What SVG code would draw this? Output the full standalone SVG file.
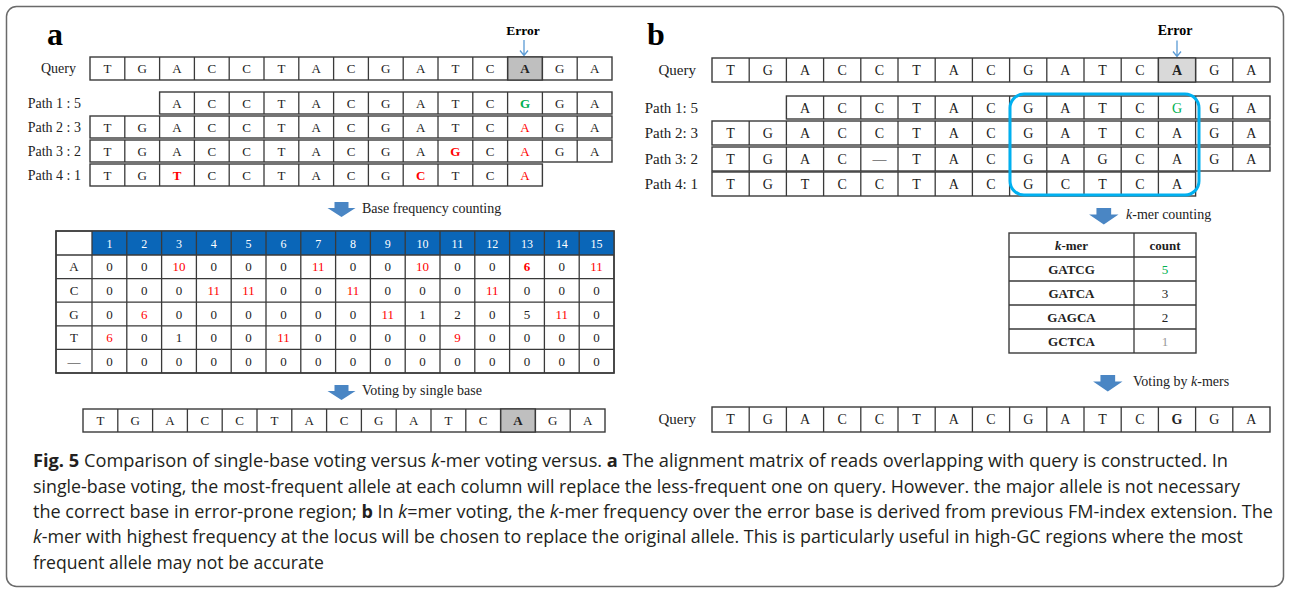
<svg xmlns="http://www.w3.org/2000/svg" width="1289" height="591" viewBox="0 0 1289 591">
<style>
.frame{fill:none;stroke:#6a6a6a;stroke-width:1.5}
.row{fill:#fff;stroke:#3a3a3a;stroke-width:1.4}
.grid{fill:none;stroke:#3a3a3a;stroke-width:1.3}
.ser{font-family:"Liberation Serif","Times New Roman",serif;fill:#222}
.cl{font-size:13px;text-anchor:middle}
.clb{font-size:14px;text-anchor:middle}
.lab{font-size:14px;text-anchor:end}
.labb{font-size:15px;text-anchor:end}
.panel{font-size:32px;font-weight:bold;fill:#000}
.err{font-weight:bold;text-anchor:middle;fill:#000}
.step{font-size:14px}
.num{font-size:13px;text-anchor:middle}
.hd{font-size:12px;text-anchor:middle;fill:#fff}
.red{fill:#f00}
.grn{fill:#00b050}
.gry{fill:#999}
.b{font-weight:bold}
.i{font-style:italic}
.arr{fill:#4a86c4}
.earr{fill:none;stroke:#5b9bd5;stroke-width:1.3}
.cap{font-family:"Open Sans","Noto Sans","Liberation Sans",sans-serif;font-size:18px;fill:#231f20}
.kbox{fill:none;stroke:#00b0f0;stroke-width:3}
</style>
<defs>
<path id="bigarrow" d="M-7 0H7V6H14L0 15L-14 6H-7Z"/>
</defs>
<rect class="frame" x="6.5" y="6.5" width="1277" height="580" rx="10"/>

<!-- Panel a -->
<g id="panel-a">
<text class="ser panel" x="47" y="45">a</text>
<g id="a-error">
<text class="ser err" x="523" y="35" font-size="13.5">Error</text>
<path class="earr" d="M524 40V55.5M520 50.5L524 55.5L528 50.5"/>
</g>
<g id="a-query">
<text class="ser lab" x="76" y="73">Query</text>
<rect class="row" x="90" y="57" width="522" height="23"/>
<rect x="507.6" y="57" width="34.8" height="23" fill="#bfbfbf" stroke="#3a3a3a" stroke-width="1.3"/>
<path class="grid" d="M124.8 57V80M159.6 57V80M194.4 57V80M229.2 57V80M264 57V80M298.8 57V80M333.6 57V80M368.4 57V80M403.2 57V80M438 57V80M472.8 57V80M507.6 57V80M542.4 57V80M577.2 57V80"/>
<text class="ser cl" y="73"><tspan x="107.4">T</tspan><tspan x="142.2">G</tspan><tspan x="177">A</tspan><tspan x="211.8">C</tspan><tspan x="246.6">C</tspan><tspan x="281.4">T</tspan><tspan x="316.2">A</tspan><tspan x="351">C</tspan><tspan x="385.8">G</tspan><tspan x="420.6">A</tspan><tspan x="455.4">T</tspan><tspan x="490.2">C</tspan><tspan x="525" class="b">A</tspan><tspan x="559.8">G</tspan><tspan x="594.6">A</tspan></text>
</g>
<g id="a-path1">
<text class="ser lab" x="81" y="108">Path 1 : 5</text>
<rect class="row" x="159.6" y="92" width="452.4" height="22"/>
<path class="grid" d="M194.4 92V114M229.2 92V114M264 92V114M298.8 92V114M333.6 92V114M368.4 92V114M403.2 92V114M438 92V114M472.8 92V114M507.6 92V114M542.4 92V114M577.2 92V114"/>
<text class="ser cl" y="107.5"><tspan x="177">A</tspan><tspan x="211.8">C</tspan><tspan x="246.6">C</tspan><tspan x="281.4">T</tspan><tspan x="316.2">A</tspan><tspan x="351">C</tspan><tspan x="385.8">G</tspan><tspan x="420.6">A</tspan><tspan x="455.4">T</tspan><tspan x="490.2">C</tspan><tspan x="525" class="grn b">G</tspan><tspan x="559.8">G</tspan><tspan x="594.6">A</tspan></text>
</g>
<g id="a-path2">
<text class="ser lab" x="81" y="132">Path 2 : 3</text>
<rect class="row" x="90" y="116" width="522" height="22"/>
<path class="grid" d="M124.8 116V138M159.6 116V138M194.4 116V138M229.2 116V138M264 116V138M298.8 116V138M333.6 116V138M368.4 116V138M403.2 116V138M438 116V138M472.8 116V138M507.6 116V138M542.4 116V138M577.2 116V138"/>
<text class="ser cl" y="131.5"><tspan x="107.4">T</tspan><tspan x="142.2">G</tspan><tspan x="177">A</tspan><tspan x="211.8">C</tspan><tspan x="246.6">C</tspan><tspan x="281.4">T</tspan><tspan x="316.2">A</tspan><tspan x="351">C</tspan><tspan x="385.8">G</tspan><tspan x="420.6">A</tspan><tspan x="455.4">T</tspan><tspan x="490.2">C</tspan><tspan x="525" class="red">A</tspan><tspan x="559.8">G</tspan><tspan x="594.6">A</tspan></text>
</g>
<g id="a-path3">
<text class="ser lab" x="81" y="156">Path 3 : 2</text>
<rect class="row" x="90" y="140" width="522" height="22"/>
<path class="grid" d="M124.8 140V162M159.6 140V162M194.4 140V162M229.2 140V162M264 140V162M298.8 140V162M333.6 140V162M368.4 140V162M403.2 140V162M438 140V162M472.8 140V162M507.6 140V162M542.4 140V162M577.2 140V162"/>
<text class="ser cl" y="155.5"><tspan x="107.4">T</tspan><tspan x="142.2">G</tspan><tspan x="177">A</tspan><tspan x="211.8">C</tspan><tspan x="246.6">C</tspan><tspan x="281.4">T</tspan><tspan x="316.2">A</tspan><tspan x="351">C</tspan><tspan x="385.8">G</tspan><tspan x="420.6">A</tspan><tspan x="455.4" class="red b">G</tspan><tspan x="490.2">C</tspan><tspan x="525" class="red">A</tspan><tspan x="559.8">G</tspan><tspan x="594.6">A</tspan></text>
</g>
<g id="a-path4">
<text class="ser lab" x="81" y="180">Path 4 : 1</text>
<rect class="row" x="90" y="164" width="452.4" height="22"/>
<path class="grid" d="M124.8 164V186M159.6 164V186M194.4 164V186M229.2 164V186M264 164V186M298.8 164V186M333.6 164V186M368.4 164V186M403.2 164V186M438 164V186M472.8 164V186M507.6 164V186"/>
<text class="ser cl" y="179.5"><tspan x="107.4">T</tspan><tspan x="142.2">G</tspan><tspan x="177" class="red b">T</tspan><tspan x="211.8">C</tspan><tspan x="246.6">C</tspan><tspan x="281.4">T</tspan><tspan x="316.2">A</tspan><tspan x="351">C</tspan><tspan x="385.8">G</tspan><tspan x="420.6" class="red b">C</tspan><tspan x="455.4">T</tspan><tspan x="490.2">C</tspan><tspan x="525" class="red">A</tspan></text>
</g>
<g id="a-step1">
<use href="#bigarrow" class="arr" x="341.5" y="202"/>
<text class="ser step" x="362" y="213">Base frequency counting</text>
</g>
<g id="a-table">
<rect class="row" x="56" y="231" width="558" height="142"/>
<rect x="92" y="231" width="522" height="24" fill="#0a66b8"/>
<path class="grid" d="M56 255H614M56 278.6H614M56 302.2H614M56 325.8H614M56 349.4H614M92 231V373M126.8 231V373M161.6 231V373M196.4 231V373M231.2 231V373M266 231V373M300.8 231V373M335.6 231V373M370.4 231V373M405.2 231V373M440 231V373M474.8 231V373M509.6 231V373M544.4 231V373M579.2 231V373"/>
<rect x="56" y="231" width="558" height="142" fill="none" stroke="#3a3a3a" stroke-width="1.4"/>
<text class="ser hd" y="247.5"><tspan x="109.4">1</tspan><tspan x="144.2">2</tspan><tspan x="179">3</tspan><tspan x="213.8">4</tspan><tspan x="248.6">5</tspan><tspan x="283.4">6</tspan><tspan x="318.2">7</tspan><tspan x="353">8</tspan><tspan x="387.8">9</tspan><tspan x="422.6">10</tspan><tspan x="457.4">11</tspan><tspan x="492.2">12</tspan><tspan x="527">13</tspan><tspan x="561.8">14</tspan><tspan x="596.6">15</tspan></text>
<text class="ser num" x="74" y="271.3">A</text>
<text class="ser num" x="74" y="294.9">C</text>
<text class="ser num" x="74" y="318.5">G</text>
<text class="ser num" x="74" y="342.1">T</text>
<text class="ser num" x="74" y="365.7">—</text>
<text class="ser num" y="271.3"><tspan x="109.4">0</tspan><tspan x="144.2">0</tspan><tspan x="179" class="red">10</tspan><tspan x="213.8">0</tspan><tspan x="248.6">0</tspan><tspan x="283.4">0</tspan><tspan x="318.2" class="red">11</tspan><tspan x="353">0</tspan><tspan x="387.8">0</tspan><tspan x="422.6" class="red">10</tspan><tspan x="457.4">0</tspan><tspan x="492.2">0</tspan><tspan x="527" class="red b">6</tspan><tspan x="561.8">0</tspan><tspan x="596.6" class="red">11</tspan></text>
<text class="ser num" y="294.9"><tspan x="109.4">0</tspan><tspan x="144.2">0</tspan><tspan x="179">0</tspan><tspan x="213.8" class="red">11</tspan><tspan x="248.6" class="red">11</tspan><tspan x="283.4">0</tspan><tspan x="318.2">0</tspan><tspan x="353" class="red">11</tspan><tspan x="387.8">0</tspan><tspan x="422.6">0</tspan><tspan x="457.4">0</tspan><tspan x="492.2" class="red">11</tspan><tspan x="527">0</tspan><tspan x="561.8">0</tspan><tspan x="596.6">0</tspan></text>
<text class="ser num" y="318.5"><tspan x="109.4">0</tspan><tspan x="144.2" class="red">6</tspan><tspan x="179">0</tspan><tspan x="213.8">0</tspan><tspan x="248.6">0</tspan><tspan x="283.4">0</tspan><tspan x="318.2">0</tspan><tspan x="353">0</tspan><tspan x="387.8" class="red">11</tspan><tspan x="422.6">1</tspan><tspan x="457.4">2</tspan><tspan x="492.2">0</tspan><tspan x="527">5</tspan><tspan x="561.8" class="red">11</tspan><tspan x="596.6">0</tspan></text>
<text class="ser num" y="342.1"><tspan x="109.4" class="red">6</tspan><tspan x="144.2">0</tspan><tspan x="179">1</tspan><tspan x="213.8">0</tspan><tspan x="248.6">0</tspan><tspan x="283.4" class="red">11</tspan><tspan x="318.2">0</tspan><tspan x="353">0</tspan><tspan x="387.8">0</tspan><tspan x="422.6">0</tspan><tspan x="457.4" class="red">9</tspan><tspan x="492.2">0</tspan><tspan x="527">0</tspan><tspan x="561.8">0</tspan><tspan x="596.6">0</tspan></text>
<text class="ser num" y="365.7"><tspan x="109.4">0</tspan><tspan x="144.2">0</tspan><tspan x="179">0</tspan><tspan x="213.8">0</tspan><tspan x="248.6">0</tspan><tspan x="283.4">0</tspan><tspan x="318.2">0</tspan><tspan x="353">0</tspan><tspan x="387.8">0</tspan><tspan x="422.6">0</tspan><tspan x="457.4">0</tspan><tspan x="492.2">0</tspan><tspan x="527">0</tspan><tspan x="561.8">0</tspan><tspan x="596.6">0</tspan></text>
</g>
<g id="a-step2">
<use href="#bigarrow" class="arr" x="341.5" y="385"/>
<text class="ser step" x="362" y="395">Voting by single base</text>
</g>
<g id="a-result">
<rect class="row" x="83" y="409" width="522" height="23"/>
<rect x="500.6" y="409" width="34.8" height="23" fill="#bfbfbf" stroke="#3a3a3a" stroke-width="1.3"/>
<path class="grid" d="M117.8 409V432M152.6 409V432M187.4 409V432M222.2 409V432M257 409V432M291.8 409V432M326.6 409V432M361.4 409V432M396.2 409V432M431 409V432M465.8 409V432M500.6 409V432M535.4 409V432M570.2 409V432"/>
<text class="ser cl" y="425"><tspan x="100.4">T</tspan><tspan x="135.2">G</tspan><tspan x="170">A</tspan><tspan x="204.8">C</tspan><tspan x="239.6">C</tspan><tspan x="274.4">T</tspan><tspan x="309.2">A</tspan><tspan x="344">C</tspan><tspan x="378.8">G</tspan><tspan x="413.6">A</tspan><tspan x="448.4">T</tspan><tspan x="483.2">C</tspan><tspan x="518" class="b">A</tspan><tspan x="552.8">G</tspan><tspan x="587.6">A</tspan></text>
</g>
</g>

<!-- Panel b -->
<g id="panel-b">
<text class="ser panel" x="647" y="45">b</text>
<g id="b-error">
<text class="ser err" x="1175" y="35" font-size="14">Error</text>
<path class="earr" d="M1177 40.5V56.5M1173 51.5L1177 56.5L1181 51.5"/>
</g>
<g id="b-query">
<text class="ser labb" x="696" y="75">Query</text>
<rect class="row" x="712" y="58" width="558" height="24"/>
<rect x="1158.4" y="58" width="37.2" height="24" fill="#d9d9d9" stroke="#3a3a3a" stroke-width="1.3"/>
<path class="grid" d="M749.2 58V82M786.4 58V82M823.6 58V82M860.8 58V82M898 58V82M935.2 58V82M972.4 58V82M1009.6 58V82M1046.8 58V82M1084 58V82M1121.2 58V82M1158.4 58V82M1195.6 58V82M1232.8 58V82"/>
<text class="ser clb" y="74.5"><tspan x="730.6">T</tspan><tspan x="767.8">G</tspan><tspan x="805">A</tspan><tspan x="842.2">C</tspan><tspan x="879.4">C</tspan><tspan x="916.6">T</tspan><tspan x="953.8">A</tspan><tspan x="991">C</tspan><tspan x="1028.2">G</tspan><tspan x="1065.4">A</tspan><tspan x="1102.6">T</tspan><tspan x="1139.8">C</tspan><tspan x="1177" class="b">A</tspan><tspan x="1214.2">G</tspan><tspan x="1251.4">A</tspan></text>
</g>
<g id="b-path1">
<text class="ser labb" x="698" y="112.5">Path 1: 5</text>
<rect class="row" x="786.4" y="96" width="483.6" height="23"/>
<path class="grid" d="M823.6 96V119M860.8 96V119M898 96V119M935.2 96V119M972.4 96V119M1009.6 96V119M1046.8 96V119M1084 96V119M1121.2 96V119M1158.4 96V119M1195.6 96V119M1232.8 96V119"/>
<text class="ser clb" y="112.5"><tspan x="805">A</tspan><tspan x="842.2">C</tspan><tspan x="879.4">C</tspan><tspan x="916.6">T</tspan><tspan x="953.8">A</tspan><tspan x="991">C</tspan><tspan x="1028.2">G</tspan><tspan x="1065.4">A</tspan><tspan x="1102.6">T</tspan><tspan x="1139.8">C</tspan><tspan x="1177" class="grn">G</tspan><tspan x="1214.2">G</tspan><tspan x="1251.4">A</tspan></text>
</g>
<g id="b-path2">
<text class="ser labb" x="698" y="138">Path 2: 3</text>
<rect class="row" x="712" y="121" width="558" height="24"/>
<path class="grid" d="M749.2 121V145M786.4 121V145M823.6 121V145M860.8 121V145M898 121V145M935.2 121V145M972.4 121V145M1009.6 121V145M1046.8 121V145M1084 121V145M1121.2 121V145M1158.4 121V145M1195.6 121V145M1232.8 121V145"/>
<text class="ser clb" y="138"><tspan x="730.6">T</tspan><tspan x="767.8">G</tspan><tspan x="805">A</tspan><tspan x="842.2">C</tspan><tspan x="879.4">C</tspan><tspan x="916.6">T</tspan><tspan x="953.8">A</tspan><tspan x="991">C</tspan><tspan x="1028.2">G</tspan><tspan x="1065.4">A</tspan><tspan x="1102.6">T</tspan><tspan x="1139.8">C</tspan><tspan x="1177">A</tspan><tspan x="1214.2">G</tspan><tspan x="1251.4">A</tspan></text>
</g>
<g id="b-path3">
<text class="ser labb" x="698" y="164">Path 3: 2</text>
<rect class="row" x="712" y="147" width="558" height="24"/>
<path class="grid" d="M749.2 147V171M786.4 147V171M823.6 147V171M860.8 147V171M898 147V171M935.2 147V171M972.4 147V171M1009.6 147V171M1046.8 147V171M1084 147V171M1121.2 147V171M1158.4 147V171M1195.6 147V171M1232.8 147V171"/>
<text class="ser clb" y="164"><tspan x="730.6">T</tspan><tspan x="767.8">G</tspan><tspan x="805">A</tspan><tspan x="842.2">C</tspan><tspan x="879.4">—</tspan><tspan x="916.6">T</tspan><tspan x="953.8">A</tspan><tspan x="991">C</tspan><tspan x="1028.2">G</tspan><tspan x="1065.4">A</tspan><tspan x="1102.6">G</tspan><tspan x="1139.8">C</tspan><tspan x="1177">A</tspan><tspan x="1214.2">G</tspan><tspan x="1251.4">A</tspan></text>
</g>
<g id="b-path4">
<text class="ser labb" x="698" y="189">Path 4: 1</text>
<rect class="row" x="712" y="172" width="483.6" height="24"/>
<path class="grid" d="M749.2 172V196M786.4 172V196M823.6 172V196M860.8 172V196M898 172V196M935.2 172V196M972.4 172V196M1009.6 172V196M1046.8 172V196M1084 172V196M1121.2 172V196M1158.4 172V196"/>
<text class="ser clb" y="189"><tspan x="730.6">T</tspan><tspan x="767.8">G</tspan><tspan x="805">T</tspan><tspan x="842.2">C</tspan><tspan x="879.4">C</tspan><tspan x="916.6">T</tspan><tspan x="953.8">A</tspan><tspan x="991">C</tspan><tspan x="1028.2">G</tspan><tspan x="1065.4">C</tspan><tspan x="1102.6">T</tspan><tspan x="1139.8">C</tspan><tspan x="1177">A</tspan></text>
</g>
<rect id="kmer-window" class="kbox" x="1010" y="94" width="189" height="101" rx="14"/>
<g id="b-step1">
<use href="#bigarrow" class="arr" transform="translate(1103.8 208) scale(1.05 1.1)"/>
<text class="ser step" x="1126" y="219"><tspan class="i">k</tspan>-mer counting</text>
</g>
<g id="b-table">
<rect class="row" x="1009" y="233" width="187" height="120"/>
<path class="grid" d="M1134 233V353M1009 257H1196M1009 281H1196M1009 305H1196M1009 329H1196"/>
<text class="ser num b" x="1071.5" y="249.5"><tspan class="i">k</tspan>-mer</text>
<text class="ser num b" x="1165" y="249.5">count</text>
<text class="ser num b" x="1071.5" y="273.5">GATCG</text>
<text class="ser num grn" x="1165" y="273.5">5</text>
<text class="ser num b" x="1071.5" y="297.5">GATCA</text>
<text class="ser num" x="1165" y="297.5">3</text>
<text class="ser num b" x="1071.5" y="321.5">GAGCA</text>
<text class="ser num" x="1165" y="321.5">2</text>
<text class="ser num b" x="1071.5" y="345.5">GCTCA</text>
<text class="ser num gry" x="1165" y="345.5">1</text>
</g>
<g id="b-step2">
<use href="#bigarrow" class="arr" transform="translate(1107.8 375) scale(1.05 1.1)"/>
<text class="ser step" x="1133" y="386" font-size="14.5">Voting by <tspan class="i">k</tspan>-mers</text>
</g>
<g id="b-result">
<text class="ser labb" x="696" y="424">Query</text>
<rect class="row" x="712" y="407" width="558" height="25"/>
<path class="grid" d="M749.2 407V432M786.4 407V432M823.6 407V432M860.8 407V432M898 407V432M935.2 407V432M972.4 407V432M1009.6 407V432M1046.8 407V432M1084 407V432M1121.2 407V432M1158.4 407V432M1195.6 407V432M1232.8 407V432"/>
<text class="ser clb" y="424"><tspan x="730.6">T</tspan><tspan x="767.8">G</tspan><tspan x="805">A</tspan><tspan x="842.2">C</tspan><tspan x="879.4">C</tspan><tspan x="916.6">T</tspan><tspan x="953.8">A</tspan><tspan x="991">C</tspan><tspan x="1028.2">G</tspan><tspan x="1065.4">A</tspan><tspan x="1102.6">T</tspan><tspan x="1139.8">C</tspan><tspan x="1177" class="b">G</tspan><tspan x="1214.2">G</tspan><tspan x="1251.4">A</tspan></text>
</g>
</g>

<!-- Caption -->
<g id="caption">
<text class="cap" x="33" y="467" textLength="1195" lengthAdjust="spacingAndGlyphs"><tspan class="b">Fig. 5</tspan> Comparison of single-base voting versus <tspan class="i">k</tspan>-mer voting versus. <tspan class="b">a</tspan> The alignment matrix of reads overlapping with query is constructed. In</text>
<text class="cap" x="33" y="492.5" textLength="1207" lengthAdjust="spacingAndGlyphs">single-base voting, the most-frequent allele at each column will replace the less-frequent one on query. However. the major allele is not necessary</text>
<text class="cap" x="33" y="518" textLength="1240" lengthAdjust="spacingAndGlyphs">the correct base in error-prone region; <tspan class="b">b</tspan> In <tspan class="i">k</tspan>=mer voting, the <tspan class="i">k</tspan>-mer frequency over the error base is derived from previous FM-index extension. The</text>
<text class="cap" x="33" y="543" textLength="1210" lengthAdjust="spacingAndGlyphs"><tspan class="i">k</tspan>-mer with highest frequency at the locus will be chosen to replace the original allele. This is particularly useful in high-GC regions where the most</text>
<text class="cap" x="33" y="568.5" textLength="291" lengthAdjust="spacingAndGlyphs">frequent allele may not be accurate</text>
</g>
</svg>
